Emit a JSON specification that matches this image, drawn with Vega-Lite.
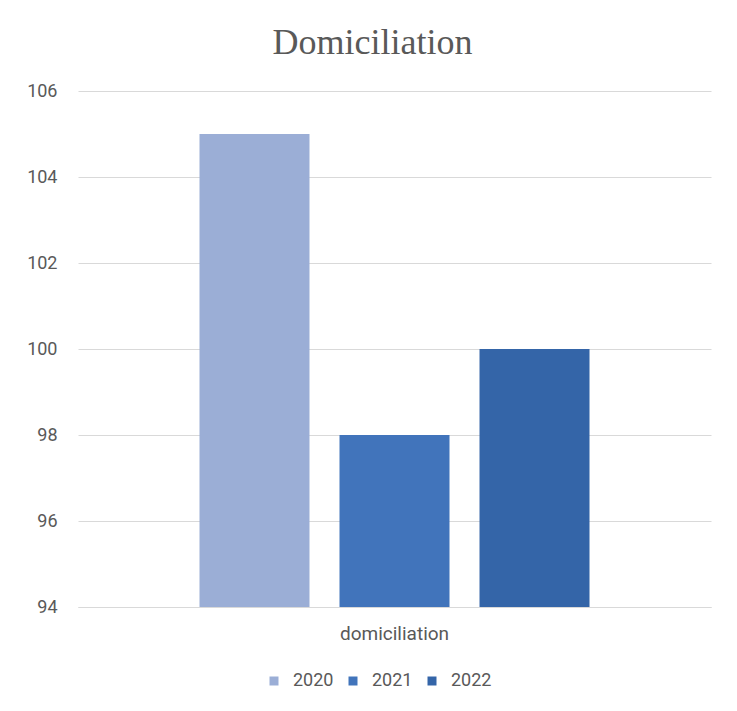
{
  "$schema": "https://vega.github.io/schema/vega-lite/v6.json",
  "width": 633,
  "height": 516,
  "autosize": {"type": "none"},
  "padding": {"left": 78, "top": 91, "right": 26, "bottom": 104},
  "background": "white",
  "title": {
    "text": "Domiciliation",
    "font": "Liberation Serif",
    "fontSize": 36,
    "fontWeight": "normal",
    "color": "#595959",
    "anchor": "middle",
    "frame": "group",
    "offset": 20,
    "dx": -22
  },
  "data": {
    "values": [
      {"category": "domiciliation", "year": "2020", "value": 105},
      {"category": "domiciliation", "year": "2021", "value": 98},
      {"category": "domiciliation", "year": "2022", "value": 100}
    ]
  },
  "mark": {"type": "bar", "clip": true},
  "encoding": {
    "x": {
      "field": "category",
      "type": "nominal",
      "scale": {"paddingInner": 0, "paddingOuter": 0.3115},
      "axis": {
        "title": null,
        "labelAngle": 0,
        "ticks": false,
        "domainColor": "#d9d9d9",
        "domainWidth": 1,
        "labelFont": "Roboto",
        "labelFontSize": 19,
        "labelColor": "#595959",
        "labelPadding": 17
      }
    },
    "xOffset": {
      "field": "year",
      "type": "nominal",
      "scale": {"paddingInner": 0.2143, "paddingOuter": 0}
    },
    "y": {
      "field": "value",
      "type": "quantitative",
      "scale": {"domain": [94, 106], "nice": false, "zero": false},
      "axis": {
        "title": null,
        "values": [94, 96, 98, 100, 102, 104, 106],
        "ticks": false,
        "domain": false,
        "gridColor": "#d9d9d9",
        "gridWidth": 1,
        "labelFont": "Roboto",
        "labelFontSize": 18,
        "labelColor": "#595959",
        "labelPadding": 21
      }
    },
    "color": {
      "field": "year",
      "type": "nominal",
      "scale": {"domain": ["2020", "2021", "2022"], "range": ["#9BAED6", "#4174BB", "#3465A8"]},
      "legend": {
        "title": null,
        "orient": "none",
        "direction": "horizontal",
        "legendX": 187,
        "legendY": 581,
        "symbolType": "square",
        "symbolSize": 81,
        "symbolStrokeWidth": 0,
        "labelFont": "Roboto",
        "labelFontSize": 18,
        "labelColor": "#595959",
        "columnPadding": 10,
        "labelOffset": 10
      }
    }
  },
  "config": {
    "view": {"stroke": null}
  }
}
